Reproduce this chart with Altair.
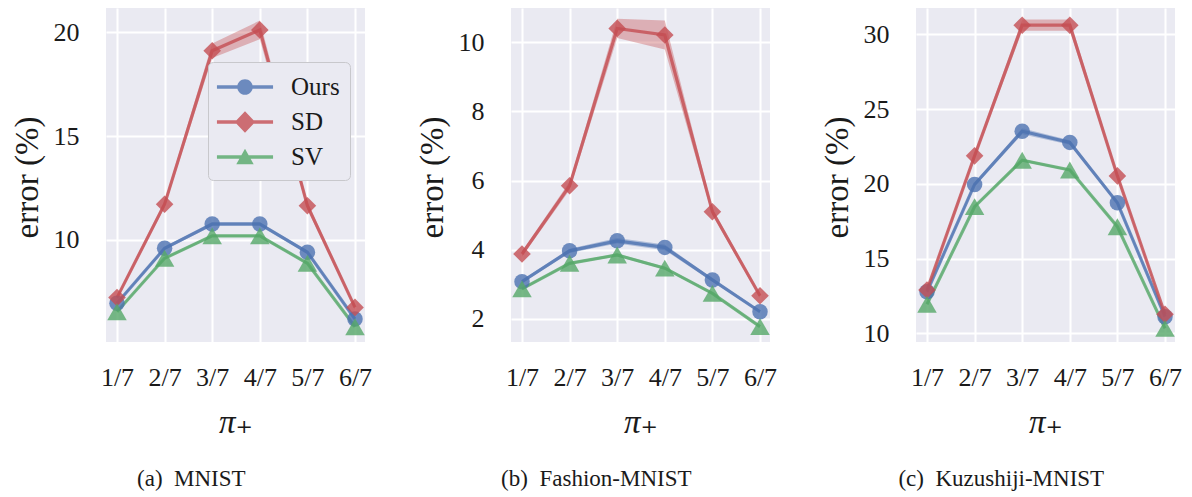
import altair as alt
import pandas as pd

# ---------------- data ----------------
pi_ticks = ["1/7", "2/7", "3/7", "4/7", "5/7", "6/7"]
x_pos = [1, 2, 3, 4, 5, 6]
methods = ["Ours", "SD", "SV"]
colors = ["#4C72B0", "#C44E52", "#55A868"]
shapes = ["circle", "diamond", "triangle-up"]
sizes = [240, 380, 320]
captions = ["(a)\u00a0 MNIST", "(b)\u00a0 Fashion-MNIST", "(c)\u00a0 Kuzushiji-MNIST"]

# MNIST
mnist_ours = [6.96, 9.60, 10.77, 10.77, 9.41, 6.20]
mnist_sd = [7.23, 11.72, 19.10, 20.10, 11.65, 6.76]
mnist_sv = [6.55, 9.12, 10.20, 10.20, 8.88, 5.83]
mnist_ours_err = [0.05, 0.08, 0.10, 0.10, 0.08, 0.05]
mnist_sd_err = [0.10, 0.15, 0.35, 0.45, 0.18, 0.10]
mnist_sv_err = [0.04, 0.05, 0.05, 0.05, 0.05, 0.04]

# Fashion-MNIST
fashion_ours = [3.08, 3.97, 4.26, 4.07, 3.13, 2.21]
fashion_sd = [3.88, 5.85, 10.40, 10.21, 5.10, 2.67]
fashion_sv = [2.87, 3.61, 3.85, 3.47, 2.74, 1.78]
fashion_ours_err = [0.05, 0.06, 0.08, 0.08, 0.05, 0.04]
fashion_sd_err = [0.08, 0.12, 0.28, 0.42, 0.10, 0.06]
fashion_sv_err = [0.03, 0.03, 0.04, 0.04, 0.03, 0.03]

# Kuzushiji-MNIST
kmnist_ours = [12.78, 19.96, 23.52, 22.77, 18.73, 11.11]
kmnist_sd = [12.90, 21.87, 30.61, 30.61, 20.53, 11.27]
kmnist_sv = [11.94, 18.47, 21.58, 20.92, 17.13, 10.33]
kmnist_ours_err = [0.10, 0.12, 0.20, 0.15, 0.12, 0.08]
kmnist_sd_err = [0.15, 0.20, 0.38, 0.38, 0.20, 0.10]
kmnist_sv_err = [0.05, 0.06, 0.08, 0.06, 0.06, 0.05]

FONT = "Liberation Serif, Times New Roman, DejaVu Serif, serif"
TXT = "#1a1a1a"

# legend symbols: line + marker (custom paths, unit scale = 15px)
LINE = "M-1.87,-0.11H1.87V0.11H-1.87Z "
CIRC = LINE + "M0.52,0A0.52,0.52,0,1,1,-0.52,0A0.52,0.52,0,1,1,0.52,0Z"
DIAM = LINE + "M0,-0.72L0.68,0L0,0.72L-0.68,0Z"
TRI = LINE + "M0,-0.55L0.58,0.48L-0.58,0.48Z"
legend_shapes = [CIRC, DIAM, TRI]

label_expr = "[" + ",".join("'" + t + "'" for t in pi_ticks) + "][datum.value - 1]"

color_scale = alt.Scale(domain=methods, range=colors)
shape_scale = alt.Scale(domain=methods, range=shapes)
size_scale = alt.Scale(domain=methods, range=sizes)

W = 259
H = 334


def panel(caption, series, errs, ydomain, yticks, show_legend):
    rows = []
    for m, vals, ee in zip(methods, series, errs):
        for xi, v, e in zip(x_pos, vals, ee):
            rows.append(dict(x=xi, method=m, err=v, lo=v - e, hi=v + e))
    df = pd.DataFrame(rows)

    xenc = alt.X(
        "x:Q",
        scale=alt.Scale(domain=[0.769, 6.21], nice=False, zero=False),
        axis=alt.Axis(
            values=x_pos, labelExpr=label_expr, title="π₊",
            domain=False, ticks=False, tickSize=0, labelPadding=22,
            labelFont=FONT, labelFontSize=26, labelColor=TXT,
            titleFont=FONT, titleFontSize=33, titleFontWeight="normal",
            titleFontStyle="italic", titleColor=TXT,
            titleX=W / 2, titleY=80, titleBaseline="middle", titleAlign="center",
            grid=True, gridColor="white", gridWidth=2,
        ),
    )
    yaxis = alt.Axis(
        values=yticks, title="error (%)",
        domain=False, ticks=False, tickSize=0, labelPadding=27,
        labelFont=FONT, labelFontSize=26, labelColor=TXT,
        titleFont=FONT, titleFontSize=33, titleFontWeight="normal", titleColor=TXT,
        titleX=-79, titleY=H / 2 + 2, titleBaseline="middle", titleAlign="center",
        titleAngle=270,
        grid=True, gridColor="white", gridWidth=2,
    )
    yscale = alt.Scale(domain=ydomain, nice=False, zero=False)

    base = alt.Chart(df)
    band = base.mark_area(opacity=0.38, interpolate="linear").encode(
        x=xenc,
        y=alt.Y("lo:Q", scale=yscale, axis=yaxis),
        y2="hi:Q",
        color=alt.Color("method:N", scale=color_scale, legend=None),
    )
    line = base.mark_line(strokeWidth=3.2, opacity=0.8).encode(
        x=xenc,
        y=alt.Y("err:Q", scale=yscale, axis=yaxis),
        color=alt.Color("method:N", scale=color_scale, legend=None),
    )
    pts = base.mark_point(filled=True, opacity=0.8).encode(
        x=xenc,
        y=alt.Y("err:Q", scale=yscale, axis=yaxis),
        color=alt.Color("method:N", scale=color_scale, legend=None),
        shape=alt.Shape("method:N", scale=shape_scale, legend=None),
        size=alt.Size("method:N", scale=size_scale, legend=None),
    )
    layers = [band, line, pts]
    if show_legend:
        leg = alt.Legend(
            title=None, orient="none", legendX=102, legendY=54,
            padding=10, symbolSize=900, symbolOffset=12, labelOffset=31,
            rowPadding=7, symbolOpacity=0.8, symbolStrokeWidth=0,
            labelFont=FONT, labelFontSize=25, labelColor=TXT, labelLimit=300,
            labelBaseline="middle",
            fillColor="#EAEAF2", strokeColor="#C8C8CC", cornerRadius=5,
        )
        legend_layer = base.mark_point(filled=True, opacity=0.8).encode(
            x=xenc,
            y=alt.Y("err:Q", scale=yscale, axis=yaxis),
            color=alt.Color("method:N", scale=color_scale, legend=leg),
            shape=alt.Shape("method:N",
                            scale=alt.Scale(domain=methods, range=legend_shapes),
                            legend=leg),
        ).transform_filter("false")
        layers.append(legend_layer)
    ch = alt.layer(*layers).properties(
        width=W, height=H,
        title=alt.TitleParams(
            text=caption, orient="bottom", anchor="middle", frame="bounds",
            offset=29, font=FONT, fontSize=23, fontWeight="normal", color=TXT,
        ),
    )
    if show_legend:
        ch = ch.resolve_scale(color="independent", shape="independent")
    return ch


p1 = panel(captions[0],
           [mnist_ours, mnist_sd, mnist_sv],
           [mnist_ours_err, mnist_sd_err, mnist_sv_err],
           [5.096, 21.154], [10, 15, 20], True)
p2 = panel(captions[1],
           [fashion_ours, fashion_sd, fashion_sv],
           [fashion_ours_err, fashion_sd_err, fashion_sv_err],
           [1.335, 10.99], [2, 4, 6, 8, 10], False)
p3 = panel(captions[2],
           [kmnist_ours, kmnist_sd, kmnist_sv],
           [kmnist_ours_err, kmnist_sd_err, kmnist_sv_err],
           [9.418, 31.76], [10, 15, 20, 25, 30], False)

chart = (
    alt.hconcat(p1, p2, p3, spacing=146, bounds="flush")
    .resolve_scale(color="independent", shape="independent", size="independent")
    .properties(padding={"left": 3, "top": 0, "right": 0, "bottom": 0}, background="white")
    .configure(font=FONT)
    .configure_view(stroke=None, fill="#EAEAF2")
)

chart.save("out.html", embed_options={"renderer": "svg", "actions": False})
